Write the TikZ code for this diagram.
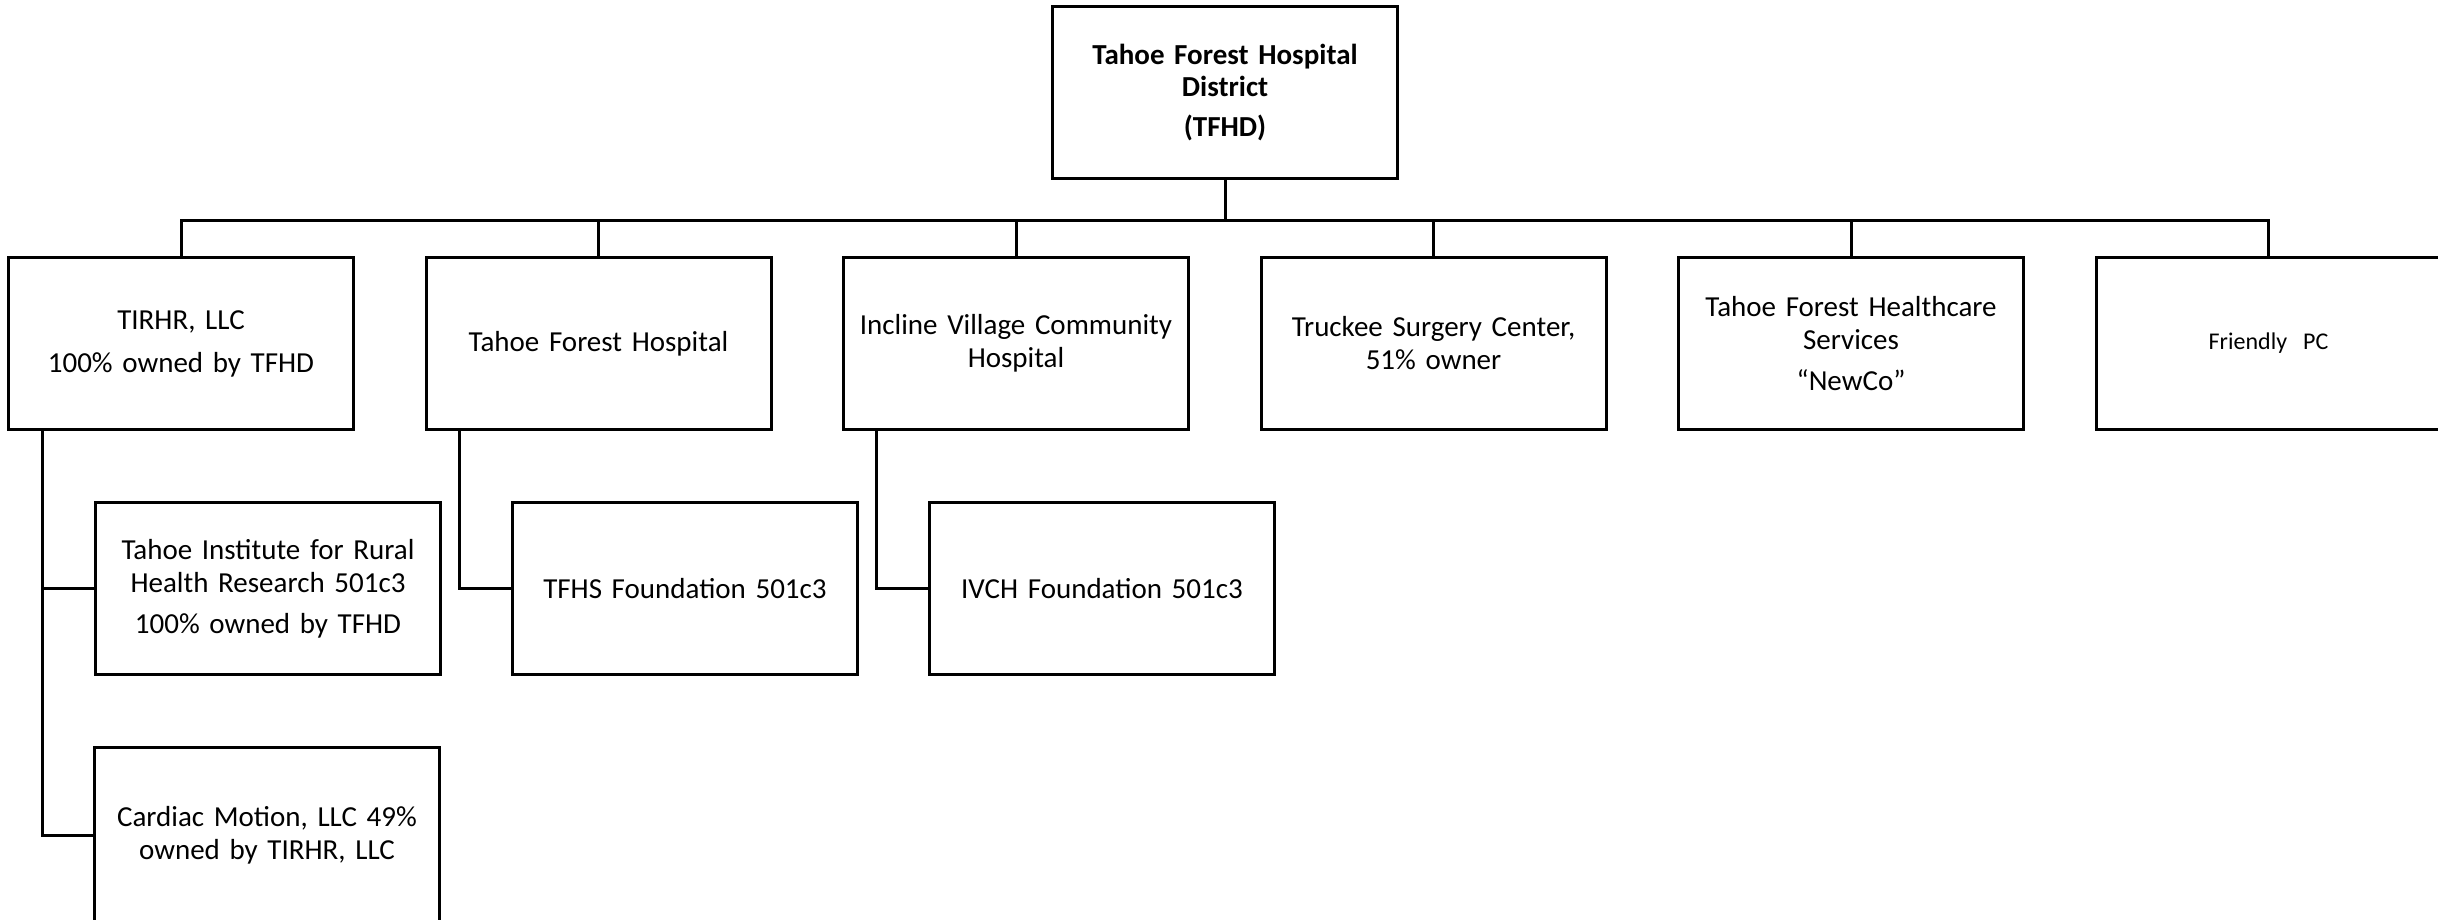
\documentclass[tikz,border=0pt]{standalone}
\usepackage{fontspec}
\setmainfont{Carlito}
\begin{document}
\begin{tikzpicture}[x=1pt,y=-1pt,
  orgbox/.style={draw=black,line width=3pt,fill=white,minimum width=345pt,minimum height=172pt,
    anchor=north west,align=center,inner sep=0pt,text width=330pt,
    font=\fontsize{29}{33}\selectfont},
  smallbox/.style={orgbox,font=\fontsize{24}{28}\selectfont},
  link/.style={line width=3pt,line cap=rect}]
\useasboundingbox[fill=white] (0,0) rectangle (2438,919);
% top
\node[orgbox,font=\bfseries\fontsize{29}{32}\selectfont] (top) at (1051,5) {Tahoe Forest Hospital\\District\\[8pt](TFHD)};
% row 1
\node[orgbox] (n1) at (7,256) {TIRHR, LLC\\[10pt]100\% owned by TFHD};
\node[orgbox] (n2) at (424.5,256) {Tahoe Forest Hospital};
\node[orgbox] (n3) at (842,256) {Incline Village Community\\Hospital};
\node[orgbox] (n4) at (1259.5,256) {Truckee Surgery Center,\\51\% owner};
\node[orgbox] (n5) at (1677,256) {Tahoe Forest Healthcare\\Services\\[8pt]“NewCo”};
\node[smallbox] (n6) at (2094.5,256) {Friendly\ \ PC};
% row 2
\node[orgbox] (s1) at (94,501) {Tahoe Institute for Rural\\Health Research 501c3\\[8pt]100\% owned by TFHD};
\node[orgbox,minimum height=176pt] (s2) at (93,746) {Cardiac Motion, LLC 49\%\\owned by TIRHR, LLC};
\node[orgbox] (f2) at (511,501) {TFHS Foundation 501c3};
\node[orgbox] (f3) at (928,501) {IVCH Foundation 501c3};
% connectors
\coordinate (bus) at (0,220);
\draw[link] (top.south) -- (top.south |- bus);
\draw[link] (n1.north) -- (n1.north |- bus) -- (n6.north |- bus) -- (n6.north);
\foreach \n in {n2,n3,n4,n5} \draw[link] (\n.north) -- (\n.north |- bus);
\draw[link] ([xshift=35pt]n1.south west) |- (s1.west);
\draw[link] ([xshift=35pt]n1.south west) |- (s2.west);
\draw[link] ([xshift=34.5pt]n2.south west) |- (f2.west);
\draw[link] ([xshift=34pt]n3.south west) |- (f3.west);
\end{tikzpicture}
\end{document}
